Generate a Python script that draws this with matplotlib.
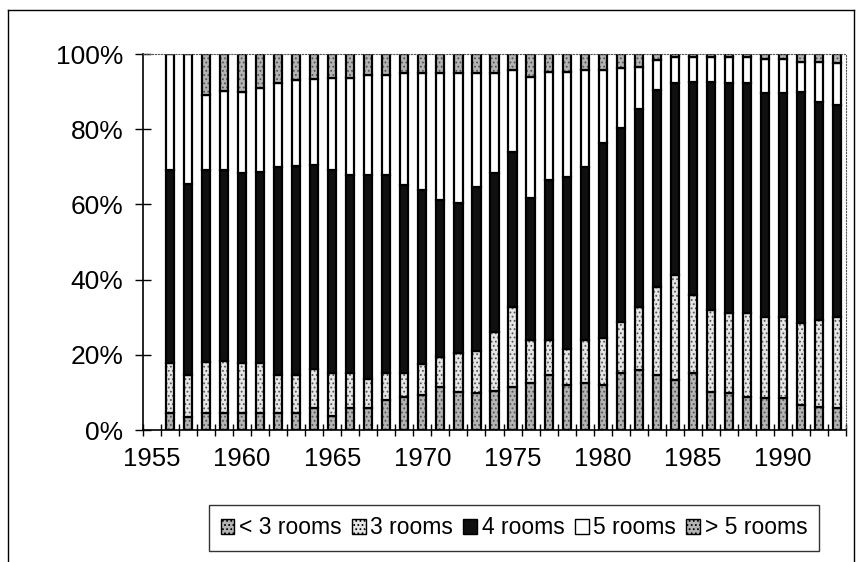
import numpy as np
import matplotlib
matplotlib.use("Agg")
import matplotlib.pyplot as plt
from matplotlib.patches import Patch
from matplotlib.lines import Line2D

# share of dwellings by size, % (1955 has no data)
years = list(range(1955, 1994))
lt3 = [0, 4.6, 3.4, 4.4, 4.4, 4.6, 4.4, 4.4, 4.6, 5.8, 3.7, 5.8, 5.8, 8.0, 8.9, 9.3, 11.5, 10.2, 9.8,
       10.5, 11.5, 12.4, 14.6, 12.0, 12.5, 12.0, 15.1, 16.0, 14.6, 13.3, 15.1, 10.2, 9.8, 8.9, 8.5,
       8.4, 6.6, 6.2, 5.8]
r3 = [0, 13.1, 11.2, 13.8, 14.0, 13.1, 13.3, 10.2, 10.0, 10.3, 11.5, 9.4, 7.7, 7.2, 6.3, 8.2, 8.0,
      10.2, 11.3, 15.6, 21.3, 11.5, 9.3, 9.5, 11.4, 12.4, 13.7, 16.8, 23.5, 27.9, 20.8, 21.7, 21.4,
      22.3, 21.6, 21.7, 21.8, 23.1, 24.3]
r4 = [0, 51.4, 50.8, 50.9, 50.7, 50.6, 51.0, 55.4, 55.6, 54.4, 53.9, 52.6, 54.3, 52.6, 50.0, 46.3,
      41.7, 39.9, 43.6, 42.2, 41.2, 37.7, 42.6, 45.9, 46.1, 51.8, 51.4, 52.7, 52.3, 51.0, 56.7, 60.7,
      61.0, 61.0, 59.4, 59.4, 61.6, 58.0, 56.3]
r5 = [0, 30.9, 34.6, 20.0, 21.1, 21.7, 22.2, 22.2, 22.9, 22.8, 24.4, 25.7, 26.6, 26.6, 29.7, 31.1,
      33.7, 34.6, 30.2, 26.6, 21.7, 32.4, 28.8, 27.9, 25.7, 19.5, 16.0, 11.1, 8.0, 7.1, 6.7, 6.7,
      7.1, 7.1, 9.3, 9.3, 8.0, 10.7, 11.1]
gt5 = [0, 0.0, 0.0, 10.9, 9.8, 10.0, 9.1, 7.8, 6.9, 6.7, 6.5, 6.5, 5.6, 5.6, 5.1, 5.1, 5.1, 5.1,
       5.1, 5.1, 4.3, 6.0, 4.7, 4.7, 4.3, 4.3, 3.8, 3.4, 1.6, 0.7, 0.7, 0.7, 0.7, 0.7, 1.2, 1.2, 2.0,
       2.0, 2.5]
labels = ["< 3 rooms", "3 rooms", "4 rooms", "5 rooms", "> 5 rooms"]

# look of each series: face, hatch
styles = [("#b4b4b4", "...."), ("#e6e6e6", "...."), ("#101010", ""),
          ("white", ""), ("#b4b4b4", "....")]

plt.rcParams["font.family"] = ["Liberation Sans", "DejaVu Sans"]
plt.rcParams["hatch.linewidth"] = 0.8

data = np.array([lt3, r3, r4, r5, gt5], dtype=float)
tot = data.sum(axis=0)
has = tot > 0
data[:, has] = data[:, has] / tot[has] * 100

x = np.array(years)
fig = plt.figure(figsize=(8.56, 5.62), dpi=100)
ax = fig.add_axes([143/856, 1-430/562, (846-143)/856, (430-54)/562])

w = 0.45
bottom = np.zeros(has.sum())
for vals, (fc, h) in zip(data, styles):
    v = vals[has]
    ax.bar(x[has], v, w, bottom=bottom, color=fc, hatch=h, edgecolor="#555555", lw=0)
    ax.bar(x[has], v, w, bottom=bottom, fill=False, edgecolor="black", lw=1.6)
    bottom += v

ax.set_xlim(1954.5, 1993.5)
ax.set_ylim(0, 100)
ax.set_yticks(range(0, 101, 20))
ax.set_yticklabels([f"{v}%" for v in range(0, 101, 20)], fontsize=19)
ax.set_xticks(range(1955, 1994, 5))
ax.set_xticklabels([str(y) for y in range(1955, 1994, 5)], fontsize=18.5)
ax.set_xticks(np.arange(1954.5, 1994, 1), minor=True)
ax.tick_params(axis="x", which="major", length=0, pad=12)
ax.tick_params(axis="x", which="minor", direction="inout", length=9, width=1)
ax.tick_params(axis="y", direction="inout", length=12, width=1, pad=8)
for s in ("left", "bottom"):
    ax.spines[s].set_linewidth(1.2)
for s in ("top", "right"):
    ax.spines[s].set_linestyle(":")
    ax.spines[s].set_color("#555555")

handles = [Patch(facecolor=fc, hatch=h, edgecolor="black", lw=1) for fc, h in styles]
fig.legend(handles, labels, loc="center", bbox_to_anchor=(514/856, 1-528/562), ncol=5,
           fontsize=16.5, frameon=True, fancybox=False, edgecolor="black",
           handlelength=0.6, handleheight=0.6, handletextpad=0.2, columnspacing=0.45,
           borderpad=0.5, borderaxespad=0)

# outer frame of the scanned chart
fig.add_artist(Line2D([8/856, 854/856], [1-10/562, 1-10/562], color="black", lw=1,
                      transform=fig.transFigure))
fig.add_artist(Line2D([8/856, 8/856], [0, 1-10/562], color="black", lw=1,
                      transform=fig.transFigure))
fig.add_artist(Line2D([854/856, 854/856], [0, 1-10/562], color="black", lw=1,
                      transform=fig.transFigure))

fig.savefig("out.png", dpi=100)
